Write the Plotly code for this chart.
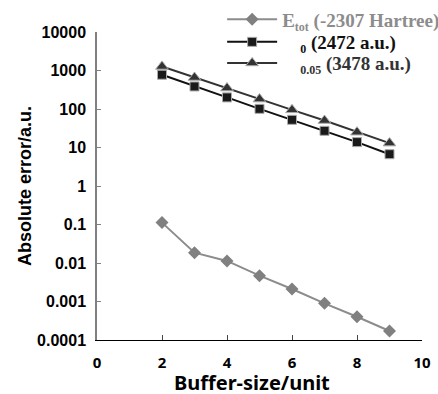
import plotly.graph_objects as go

buffer_size = [2, 3, 4, 5, 6, 7, 8, 9]
etot_err = [0.112, 0.0185, 0.0113, 0.00468, 0.00211, 0.000895, 0.000401, 0.000171]
sq_err = [776, 385, 200, 101, 52.4, 27.1, 13.8, 6.7]
tri_err = [1274, 659, 350, 181, 95, 50.2, 25, 13]

gap = "\u2002\u00a0\u2009"  # blank where the original (missing) symbol glyph sat
names = [
    "<span style='color:#8c8c8c'>E<sub><span style='font-size:12px'>tot</span></sub> (-2307 Hartree)</span>",
    "<span style='color:#111111'>" + gap + "<sub><span style='font-size:12px'>0</span></sub> (2472 a.u.)</span>",
    "<span style='color:#333333'>" + gap + "<sub><span style='font-size:12px'>0.05</span></sub> (3478 a.u.)</span>",
]
y_tickvals = [1e-4, 1e-3, 1e-2, 1e-1, 1, 10, 100, 1000, 10000]
y_ticktext = ["0.0001", "0.001", "0.01", "0.1", "1", "10", "100", "1000", "10000"]
x_tickvals = [0, 2, 4, 6, 8, 10]
x_title = "Buffer-size/unit"
y_title = "Absolute error/a.u."

fig = go.Figure()
fig.add_trace(go.Scatter(x=buffer_size, y=etot_err, name=names[0], mode="lines+markers",
                         legend="legend",
                         line=dict(color="#8c8c8c", width=2),
                         marker=dict(symbol="diamond", size=10, color="#808080")))
fig.add_trace(go.Scatter(x=buffer_size, y=sq_err, name=names[1], mode="lines+markers",
                         legend="legend2",
                         line=dict(color="#111111", width=2),
                         marker=dict(symbol="square", size=9, color="#1a1a1a",
                                     line=dict(color="#aaaaaa", width=1))))
fig.add_trace(go.Scatter(x=buffer_size, y=tri_err, name=names[2], mode="lines+markers",
                         legend="legend3",
                         line=dict(color="#333333", width=2),
                         marker=dict(symbol="triangle-up", size=11, color="#333333",
                                     line=dict(color="#aaaaaa", width=1))))

leg_font = dict(family="Liberation Serif, Times New Roman", size=19, weight="bold")
def leg(y):
    return dict(x=0.385, y=y, xanchor="left", yanchor="middle", xref="paper", yref="paper",
                bgcolor="rgba(0,0,0,0)", itemwidth=50, font=leg_font)

fig.update_layout(
    width=438, height=394,
    margin=dict(l=97, r=16, t=32, b=54, autoexpand=False),
    paper_bgcolor="white", plot_bgcolor="white",
    font=dict(family="Liberation Sans, Arial", size=13, color="black"),
    showlegend=True,
    legend=leg(1.041), legend2=leg(0.9675), legend3=leg(0.899),
    xaxis=dict(range=[0, 10], tickvals=x_tickvals, ticks="inside", ticklen=5,
               ticklabelstandoff=9,
               showline=True, linecolor="black", linewidth=1, showgrid=False, zeroline=False,
               tickfont=dict(family="Noto Sans", size=15, weight="bold")),
    yaxis=dict(type="log", range=[-4, 4], tickvals=y_tickvals, ticktext=y_ticktext,
               ticks="inside", ticklen=4, tickcolor="#808080", ticklabelstandoff=6,
               showline=True, linecolor="#808080", linewidth=1.5, showgrid=False, zeroline=False,
               tickfont=dict(family="Liberation Sans, Arial", size=16, weight="bold"),
               title=dict(text=y_title, standoff=1,
                          font=dict(family="Liberation Sans, Arial", size=18, weight="bold"))),
    annotations=[dict(text=x_title, xref="paper", yref="paper", x=0.477, y=-0.139,
                      xanchor="center", yanchor="middle", showarrow=False,
                      font=dict(family="Noto Sans", size=20, weight="bold", color="black"))],
)

fig.write_html("out.html", config={"displayModeBar": False},
               post_script="document.body.style.margin='0';")
